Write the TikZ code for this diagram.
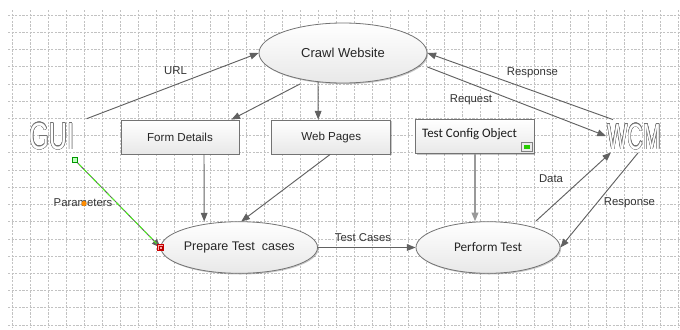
\documentclass[tikz,border=0pt]{standalone}
\usepackage{fontspec}
\setmainfont{Liberation Sans}
\newfontfamily\calibri{Carlito}
\usepackage[copies]{contour}
\usetikzlibrary{arrows.meta,shadows,calc,shapes.geometric}

\tikzset{
  gridline/.style={draw=black!24, line width=0.45pt, dash pattern=on 1.6pt off 1.1pt},
  conn/.style={draw=black!62, line width=0.7pt,
    -{Triangle[length=6.5pt,width=5pt]}},
  softshadow/.style={drop shadow={shadow xshift=0.8pt, shadow yshift=-0.9pt,
    opacity=0.22, fill=black}},
  procnode/.style={ellipse, draw=black!55, line width=0.6pt, top color=white,
    bottom color=black!9, softshadow, inner sep=0pt,
    minimum height=38.7pt},
  databox/.style={rectangle, draw=black!55, line width=0.6pt, top color=white,
    bottom color=black!9, softshadow, inner sep=0pt,
    minimum height=25.5pt, text=black!85,
    font=\fontsize{8.7}{10}\selectfont},
  lbl/.style={inner sep=0pt, text=black!80, font=\fontsize{8.5}{10}\selectfont},
  actor/.style={inner sep=0pt},
}

\begin{document}
\begin{tikzpicture}[x=0.75pt,y=-0.75pt]
  \useasboundingbox (0,0) rectangle (680,329);
  \fill[white] (0,0) rectangle (680,329);

  % background grid
  \foreach \k in {0,...,37}
    \draw[gridline] (12.7+18*\k,10) -- (12.7+18*\k,327);
  \foreach \k in {0,...,18}
    \draw[gridline] (8,15+17.22*\k) -- (680,15+17.22*\k);

  % processes
  \node[procnode, minimum width=126pt, minimum height=45pt,
        font=\fontsize{9.75}{11}\selectfont, text=black!85] (crawl) at (343,53) {Crawl Website};
  \node[procnode, minimum width=108.75pt,
        font=\fontsize{9.4}{11}\selectfont, text=black!85] (prepare) at (239.2,247.5) {Prepare Test\ \ cases};
  \node[procnode, minimum width=108pt,
        font=\calibri\fontsize{9.9}{11}\selectfont, text=black!85] (perform) at (488,247.5) {Perform Test};

  % data items
  \node[databox, minimum width=88.5pt] (form) at (180,137) {Form Details};
  \node[databox, minimum width=89.25pt] (web) at (331.2,137) {Web Pages};
  \node[databox, minimum width=89pt] (cfg) at (475,136.7) {};
  \node[inner sep=0pt, font=\calibri\fontsize{9.7}{11}\selectfont, text=black!90]
       (cfgtext) at (469.5,134) {Test Config Object};
  \draw[black!50, fill=black!8, line width=0.5pt] (521.5,142.5) rectangle (532,151);
  \fill[green!75!lime!80!black] (523.5,145) rectangle (530,148.5);

  % external actors
  \contourlength{0.45pt}
  \node[actor] (gui) at (51.7,136.7)
    {\scalebox{0.67}[1]{\fontsize{28.3}{30}\selectfont\contour{black!55}{\textcolor{white}{GUI}}}};
  \node[actor] (wcm) at (634,137)
    {\scalebox{0.59}[1]{\fontsize{27.2}{30}\selectfont\contour{black!55}{\textcolor{white}{WCM}}}};

  % flows
  \draw[conn] ($(gui.north east)+(12,-4)$) -- (crawl.west);
  \node[lbl] (urllbl) at (175.5,71) {URL};

  \draw[conn] ($(crawl.center)+(-43,31)$) -- ($(form.north east)+(-8,0)$);
  \draw[conn] ($(crawl.center)+(-25,29)$) -- ($(web.north)+(-13,0)$);

  \draw[conn] ($(wcm.north west)+(6,-4)$) -- (crawl.east);
  \node[lbl] (resplbl) at (532.5,73) {Response};
  \draw[conn] ($(crawl.east)+(0,14)$) -- ($(wcm.west)+(-1,-1)$);
  \node[lbl] (reqlbl) at (471,100) {Request};

  \draw[conn] ($(form.south)+(24,0)$) -- ($(prepare.center)+(-35,-26)$);
  \draw[conn] ($(web.south)+(-1,0)$) -- ($(prepare.center)+(2,-26)$);

  \draw[conn, draw=black!40, line width=1.2pt] (cfg.south) -- (cfg.south |- perform.north);

  \draw[conn] (prepare.east) -- (perform.west);
  \node[lbl] (tclbl) at (363,238) {Test Cases};

  \draw[conn] ($(perform.center)+(48,-26.5)$) -- ($(wcm.south west)+(4,2)$);
  \node[lbl] (datalbl) at (551,179) {Data};
  \draw[conn] ($(wcm.south)+(4,2.5)$) -- (perform.east);
  \node[lbl] (resp2lbl) at (629.5,203) {Response};

  % parameters flow, shown selected
  \coordinate (parstart) at ($(gui.south east)+(0,9)$);
  \draw[conn] (parstart) -- (prepare.west);
  \draw[green!70!lime!90!white, line width=0.7pt, dash pattern=on 3pt off 2pt]
       (parstart) -- ($(prepare.west)+(-3,-3)$);
  \node[lbl] (parlbl) at (83,203) {Parameters};
  \fill[orange!90!yellow] (84,203.5) circle (2.6);
  \draw[green!60!black, fill=green!25, line width=0.5pt]
       ($(parstart)+(-2.5,-2.5)$) rectangle ($(parstart)+(2.5,2.5)$);
  \draw[red!80!black, fill=red!35, line width=0.5pt]
       ($(prepare.west)+(-3,-3)$) rectangle ($(prepare.west)+(3,3)$);
  \draw[red!70!black, line width=0.4pt]
       ($(prepare.west)+(-1.3,-1.3)$) rectangle ($(prepare.west)+(1.3,1.3)$);
\end{tikzpicture}
\end{document}
